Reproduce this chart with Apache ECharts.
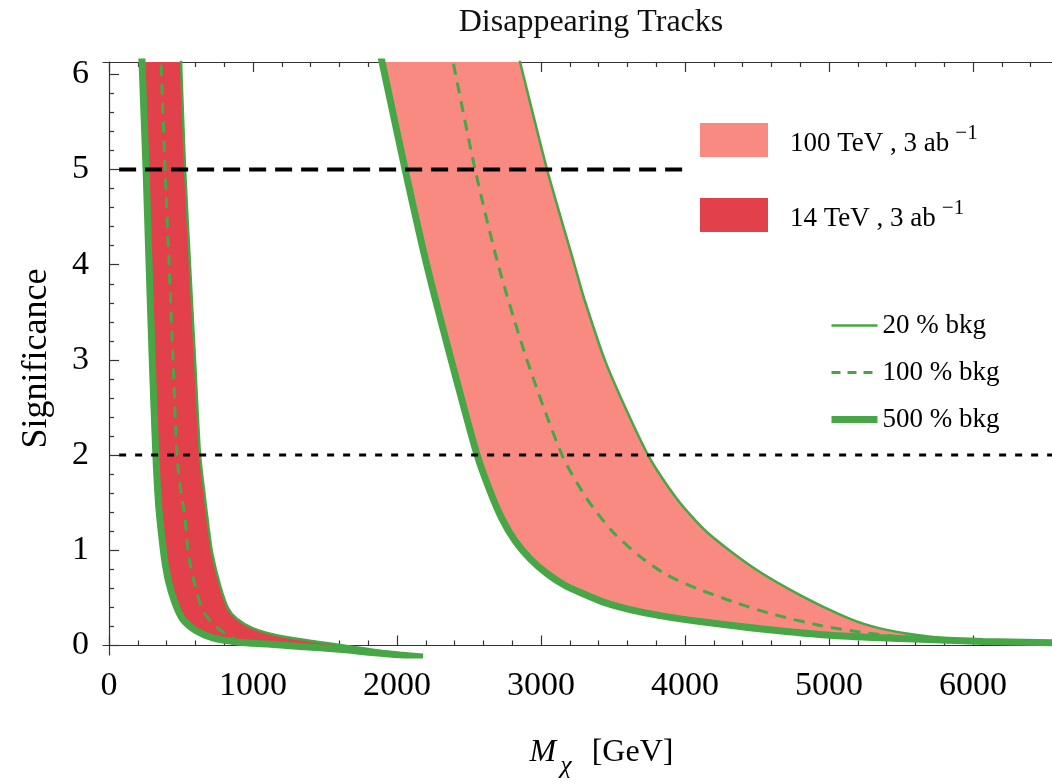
<!DOCTYPE html>
<html>
<head>
<meta charset="utf-8">
<title>Disappearing Tracks</title>
<script src="https://cdn.jsdelivr.net/npm/echarts@6/dist/echarts.min.js"></script>
<style>
  html, body { margin: 0; padding: 0; background: #fff; }
  #chart { width: 1052px; height: 784px; }
</style>
</head>
<body>
<div id="chart"></div>
<script>
// [M (GeV), significance] (first/last points run past the frame and get clipped)

// 14 TeV, 3 ab^-1
const lhc_500 = [[220,6.5],[229,6.13],[257,5],[278,4],[300,3],[325,2],[343,1.5],[362,1.2],[386,0.9],[412,0.68],[455,0.46],[510,0.28],[600,0.16],[720,0.08],[900,0.035],[1100,0.015],[1326,-0.01],[1600,-0.04],[1800,-0.07],[2020,-0.10],[2180,-0.12]];
const lhc_100 = [[352,6.5],[361,6.13],[389,5],[417,4],[444,3],[472,2],[500,1.6],[528,1.33],[549,0.98],[597,0.63],[653,0.36],[736,0.21],[800,0.13],[870,0.08]];
const lhc_20 = [[491,6.5],[500,6.13],[528,5],[562,4],[597,3],[632,2],[662,1.6],[690,1.25],[715,0.98],[771,0.63],[827,0.39],[887,0.28],[1000,0.18],[1188,0.10],[1444,0.04],[1674,-0.01],[1900,-0.06],[2150,-0.11]];

// 100 TeV, 3 ab^-1
const fcc_500 = [[1843,6.5],[1896,6.13],[2056,5],[2206,4],[2376,3],[2556,2.0],[2646,1.62],[2729,1.33],[2819,1.10],[2924,0.91],[3042,0.755],[3167,0.63],[3306,0.535],[3444,0.45],[3618,0.377],[3826,0.314],[4104,0.252],[4569,0.168],[5028,0.105],[5493,0.073],[6069,0.042],[6700,0.025]];
const fcc_100 = [[2339,6.5],[2389,6.13],[2542,5],[2702,4],[2902,3],[3146,2.0],[3319,1.54],[3500,1.19],[3700,0.92],[3875,0.74],[4080,0.6],[4333,0.46],[4580,0.34],[4938,0.21],[5264,0.13],[5611,0.075],[5958,0.045],[6300,0.035],[6700,0.028]];
const fcc_20 = [[2793,6.5],[2854,6.13],[3042,5],[3232,4],[3300,3.64],[3458,2.94],[3743,2.0],[3944,1.54],[4153,1.19],[4472,0.82],[4799,0.53],[5146,0.28],[5354,0.18],[5611,0.11],[5958,0.055],[6200,0.04],[6700,0.03]];

// reference lines
const line5 = [[70,5],[4000,5]];
const line2 = [[70,2],[6548,2]];

const xTicks = [0,1000,2000,3000,4000,5000,6000];
const yTicks = [0,1,2,3,4,5,6];
const xMinor = [];
for (let v = 200; v <= 6400; v += 200) if (v % 1000) xMinor.push(v);
const yMinor = [];
for (let i = 1; i <= 30; i++) if (i % 5) yMinor.push(Math.round(i * 2) / 10);

const X_MIN = -42, X_MAX = 6548, Y_MIN = -0.1, Y_MAX = 6.13;
const SERIF = 'Liberation Serif';
const GREEN = '#47a646';
const SMOOTH = 0.25;
const FCC_NAME = '100 TeV , 3 ab-1';
const LHC_NAME = '14 TeV , 3 ab-1';

let chart = echarts.init(document.getElementById('chart'));

function band(name, lower, upper, color) {
  const poly = lower.concat(upper.slice().reverse());
  return {
    name: name,
    type: 'custom',
    data: poly,
    clip: true,
    itemStyle: {color: color},
    renderItem: function (params, api) {
      if (params.dataIndex !== 0) return;
      return {
        type: 'polygon',
        shape: {points: poly.map(p => api.coord(p)), smooth: SMOOTH},
        style: {fill: color}
      };
    },
    z: 1
  };
}

function curve(name, data, width, type) {
  return {
    name: name,
    type: 'line',
    data: data,
    symbol: 'none',
    smooth: SMOOTH,
    clip: true,
    lineStyle: {color: GREEN, width: width, type: type || 'solid'},
    itemStyle: {color: GREEN},
    z: 3
  };
}

function xAxisCfg(pos, ticks, len, withLine) {
  return {
    type: 'value', min: X_MIN, max: X_MAX, position: pos,
    axisLine: {show: withLine, lineStyle: {color: '#333', width: 1.2}},
    axisTick: {show: true, inside: true, length: len, customValues: ticks, lineStyle: {color: '#333', width: 1.2}},
    axisLabel: {show: false},
    splitLine: {show: false}
  };
}
function yAxisCfg(ticks, len, withLine) {
  return {
    type: 'value', min: Y_MIN, max: Y_MAX, position: 'left',
    axisLine: {show: withLine, lineStyle: {color: '#333', width: 1.2}},
    axisTick: {show: true, inside: true, length: len, customValues: ticks, lineStyle: {color: '#333', width: 1.2}},
    axisLabel: {show: false},
    splitLine: {show: false}
  };
}

const xMain = xAxisCfg('bottom', xTicks, 10, true);
xMain.axisLabel = {
  show: true, customValues: xTicks, fontFamily: SERIF, fontSize: 34, color: '#000', margin: 14,
  formatter: v => String(v)
};
xMain.name = '{m|M}{s|χ}{g|[GeV]}';
xMain.nameLocation = 'middle';
xMain.nameGap = 82;
xMain.nameTextStyle = {
  fontFamily: SERIF, color: '#000', padding: [0, 0, 0, 48],
  rich: {
    m: {fontFamily: SERIF, fontSize: 32, fontStyle: 'italic', verticalAlign: 'bottom', padding: [0, 0, 10, 0]},
    s: {fontFamily: SERIF, fontSize: 26, fontStyle: 'italic', verticalAlign: 'bottom', padding: [0, 0, 0, 4]},
    g: {fontFamily: SERIF, fontSize: 32, verticalAlign: 'bottom', padding: [0, 0, 10, 20]}
  }
};

const yMain = yAxisCfg(yTicks, 10, true);
yMain.axisLabel = {show: true, customValues: yTicks, fontFamily: SERIF, fontSize: 34, color: '#000', margin: 14};
yMain.name = 'Significance';
yMain.nameLocation = 'middle';
yMain.nameGap = 48;
yMain.nameTextStyle = {fontFamily: SERIF, fontSize: 36, color: '#000'};

const option = {
  animation: false,
  backgroundColor: '#fff',
  title: {
    text: 'Disappearing Tracks',
    left: 586, top: 2, textAlign: 'center',
    textStyle: {fontFamily: SERIF, fontSize: 32, fontWeight: 'normal', color: '#111'}
  },
  grid: {left: 103, right: 0, top: 62, bottom: 127},
  xAxis: [xMain, xAxisCfg('bottom', xMinor, 5, false), xAxisCfg('top', xTicks, 10, true), xAxisCfg('top', xMinor, 5, false)],
  yAxis: [yMain, yAxisCfg(yMinor, 5, false)],
  legend: [
    {
      data: [{name: FCC_NAME, icon: 'rect'}, {name: LHC_NAME, icon: 'rect'}],
      orient: 'vertical', left: 700, top: 123, padding: 0,
      itemWidth: 68, itemHeight: 34, itemGap: 41,
      selectedMode: false,
      formatter: function (name) {
        return '{t|' + name.replace(' ab-1', ' ab') + '}{sup|−1}';
      },
      textStyle: {
        fontFamily: SERIF, fontSize: 27, color: '#000',
        rich: {
          t: {fontFamily: SERIF, fontSize: 27, color: '#000', verticalAlign: 'bottom', padding: [0, 0, 0, 17]},
          sup: {fontFamily: SERIF, fontSize: 21, color: '#000', verticalAlign: 'bottom', padding: [0, 0, 13, 6]}
        }
      }
    },
    {
      data: [
        {name: '20 % bkg', lineStyle: {width: 2.5}, itemStyle: {opacity: 0}},
        {name: '100 % bkg', lineStyle: {width: 3, type: [9, 7]}, itemStyle: {opacity: 0}},
        {name: '500 % bkg', lineStyle: {width: 7}, itemStyle: {opacity: 0}}
      ],
      orient: 'vertical', left: 828, top: 312, padding: 0,
      itemWidth: 46, itemHeight: 14, itemGap: 20,
      selectedMode: false,
      textStyle: {fontFamily: SERIF, fontSize: 27, color: '#000'}
    }
  ],
  series: [
    band(FCC_NAME, fcc_500, fcc_20, '#f98a82'),
    band(LHC_NAME, lhc_500, lhc_20, '#e2404a'),
    curve('20 % bkg', fcc_20, 2.5),
    curve('20 % bkg', lhc_20, 2.5),
    curve('100 % bkg', fcc_100, 3, [11, 8]),
    curve('100 % bkg', lhc_100, 3, [11, 8]),
    curve('500 % bkg', fcc_500, 7),
    curve('500 % bkg', lhc_500, 7),
    {
      type: 'line', data: line5, symbol: 'none', silent: true, z: 4,
      lineStyle: {color: '#000', width: 4, type: [17, 9]}
    },
    {
      type: 'line', data: line2, symbol: 'none', silent: true, z: 4,
      lineStyle: {color: '#000', width: 3, type: [7, 9]}
    }
  ]
};

chart.setOption(option);
window.addEventListener('resize', () => {
  chart.resize();
});
</script>
</body>
</html>
